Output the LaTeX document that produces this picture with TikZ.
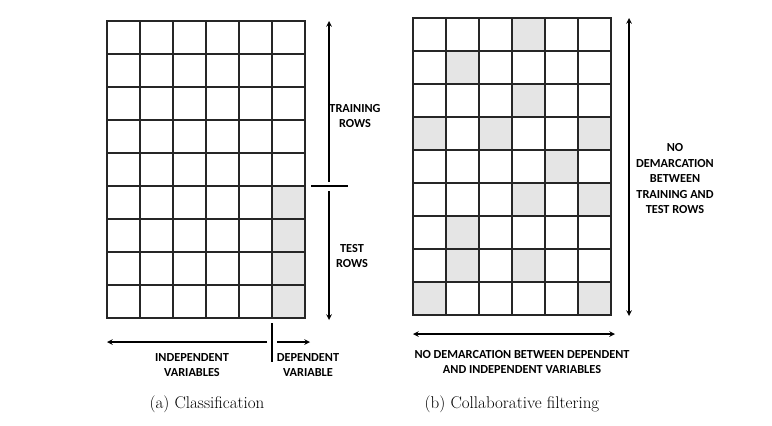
\documentclass[tikz,border=0pt]{standalone}
\usepackage{fontspec}
\newfontfamily\lblfont{Carlito}
\usetikzlibrary{arrows,positioning,calc}

\begin{document}
\begin{tikzpicture}[
    x=1pt, y=-1pt,
    cell/.style={rectangle, draw=black!85, line width=1.1pt, minimum size=33pt, inner sep=0pt},
    shaded/.style={cell, fill=black!10},
    arrow/.style={->, >=stealth, line width=1.5pt},
    sepline/.style={line width=1.5pt},
    lbl/.style={font=\lblfont\bfseries\fontsize{12.3}{15.5}\selectfont, align=center},
    capt/.style={font=\fontsize{17}{20}\selectfont}
]
    \useasboundingbox (0,0) rectangle (772,426);

    % (a) classification grid
    \foreach \c in {1,...,6}
        \foreach \r in {1,...,9}
            \node[cell] (a-\c-\r) at ({90.5+33*\c},{4.5+33*\r}) {};
    \foreach \r in {6,...,9}
        \node[shaded] (a-6-\r) at ({90.5+33*6},{4.5+33*\r}) {};

    % (b) collaborative filtering grid
    \foreach \c in {1,...,6}
        \foreach \r in {1,...,9}
            \node[cell] (b-\c-\r) at ({396.5+33*\c},{1.5+33*\r}) {};
    \foreach \c/\r in {4/1, 2/2, 4/3, 1/4, 3/4, 6/4, 5/5, 4/6, 6/6, 2/7, 2/8, 4/8, 1/9, 6/9}
        \node[shaded] (b-\c-\r) at ({396.5+33*\c},{1.5+33*\r}) {};

    % rows, left
    \coordinate (trtop) at (329,21);
    \coordinate (trbot) at (329,182);
    \coordinate (tstop) at (329,191);
    \coordinate (tsbot) at (329,320);
    \coordinate (sepl) at (311,186);
    \coordinate (sepr) at (348,186);
    \draw[arrow] (trbot) -- (trtop);
    \draw[arrow] (tstop) -- (tsbot);
    \draw[sepline] (sepl) -- (sepr);
    \node[lbl] (train) at (355,116) {TRAINING\\ROWS};
    \node[lbl] (test) at (352,256) {TEST\\ROWS};

    % columns, left
    \coordinate (indr) at (267,342);
    \coordinate (indl) at (107,342);
    \coordinate (depl) at (277,342);
    \coordinate (depr) at (310,342);
    \coordinate (divt) at (272,323);
    \coordinate (divb) at (272,362);
    \draw[arrow] (indr) -- (indl);
    \draw[arrow] (depl) -- (depr);
    \draw[sepline] (divt) -- (divb);
    \node[lbl] (indep) at (192,365) {INDEPENDENT\\VARIABLES};
    \node[lbl] (dep) at (308,365) {DEPENDENT\\VARIABLE};

    % right side
    \coordinate (rtop) at (629,18);
    \coordinate (rbot) at (629,316);
    \coordinate (cl) at (413,334);
    \coordinate (cr) at (615,334);
    \draw[arrow, <->] (rtop) -- (rbot);
    \draw[arrow, <->] (cl) -- (cr);
    \node[lbl] (nodemr) at (675,179) {NO\\DEMARCATION\\BETWEEN\\TRAINING AND\\TEST ROWS};
    \node[lbl] (nodemc) at (522,362) {NO DEMARCATION BETWEEN DEPENDENT\\AND INDEPENDENT VARIABLES};

    % captions
    \node[capt] (capa) at (207,404) {(a) Classification};
    \node[capt] (capb) at (512,404) {(b) Collaborative filtering};
\end{tikzpicture}
\end{document}
